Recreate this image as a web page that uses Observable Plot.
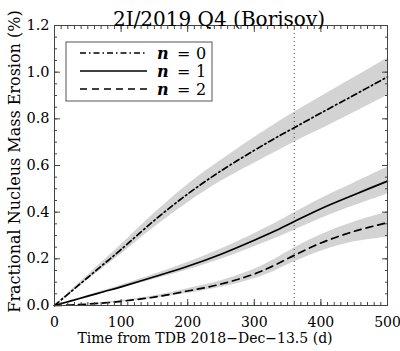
<!DOCTYPE html>
<html>
<head>
<meta charset="utf-8">
<script src="https://cdn.jsdelivr.net/npm/d3@7"></script>
<script src="https://cdn.jsdelivr.net/npm/@observablehq/plot@0.6"></script>
<style>
  html, body { margin: 0; padding: 0; background: #fff; }
  #chart { width: 400px; height: 351px; }
</style>
</head>
<body>
<div id="chart"></div>
<script>
const title = "2I/2019 Q4 (Borisov)";
const xLabel = "Time from TDB 2018\u2212Dec\u221213.5 (d)";
const yLabel = "Fractional Nucleus Mass Erosion (%)";
const perihelion = 360;

const t    = [0, 25, 50, 75, 100, 150, 200, 250, 300, 330, 360, 400, 450, 500];
// n = 0
const n0   = [0, 0.060, 0.120, 0.180, 0.240, 0.365, 0.478, 0.577, 0.665, 0.715, 0.762, 0.825, 0.902, 0.980];
const n0lo = [0, 0.055, 0.110, 0.165, 0.220, 0.335, 0.440, 0.532, 0.610, 0.655, 0.700, 0.755, 0.827, 0.900];
const n0hi = [0, 0.065, 0.130, 0.195, 0.260, 0.395, 0.518, 0.622, 0.720, 0.775, 0.828, 0.895, 0.977, 1.060];
// n = 1
const n1   = [0, 0.020, 0.040, 0.060, 0.080, 0.123, 0.168, 0.220, 0.280, 0.318, 0.360, 0.415, 0.475, 0.533];
const n1lo = [0, 0.019, 0.037, 0.055, 0.073, 0.112, 0.152, 0.198, 0.252, 0.286, 0.323, 0.373, 0.427, 0.478];
const n1hi = [0, 0.021, 0.043, 0.065, 0.087, 0.134, 0.184, 0.242, 0.308, 0.350, 0.397, 0.458, 0.525, 0.592];
// n = 2
const n2   = [0, 0.002, 0.006, 0.011, 0.018, 0.036, 0.062, 0.092, 0.135, 0.172, 0.215, 0.268, 0.318, 0.355];
const n2lo = [0, 0.002, 0.005, 0.009, 0.015, 0.030, 0.052, 0.078, 0.115, 0.147, 0.187, 0.233, 0.273, 0.293];
const n2hi = [0, 0.002, 0.007, 0.013, 0.021, 0.042, 0.072, 0.106, 0.155, 0.197, 0.246, 0.303, 0.358, 0.400];

const seriesNames = ["n = 0", "n = 1", "n = 2"];
const yTicks = [0, 0.2, 0.4, 0.6, 0.8, 1.0, 1.2];
const xTicks = [0, 100, 200, 300, 400, 500];

const dashes = ["6,3,1.5,3", null, "7,5"];

function rows(v, lo, hi) {
  return t.map((d, i) => ({t: d, v: v[i], lo: lo[i], hi: hi[i]}));
}
const S = [rows(n0, n0lo, n0hi), rows(n1, n1lo, n1hi), rows(n2, n2lo, n2hi)];

const font = "'DejaVu Serif', serif";
const curve = "catmull-rom";

const marks = [];
S.forEach(s => marks.push(Plot.areaY(s, {x: "t", y1: "lo", y2: "hi", fill: "#d3d3d3", curve})));
marks.push(Plot.ruleX([perihelion], {stroke: "#555", strokeWidth: 1.1, strokeDasharray: "1,3"}));
S.forEach((s, i) => marks.push(Plot.line(s, {x: "t", y: "v", stroke: "#000", strokeWidth: 1.7, strokeDasharray: dashes[i], curve})));
marks.push(Plot.frame({stroke: "#444", strokeWidth: 1}));

// ticks (inward)
const xMinor = d3.range(0, 501, 10);
const yMinor = d3.range(0, 1.2001, 0.05);
for (const a of ["bottom", "top"]) {
  marks.push(Plot.axisX(xMinor, {anchor: a, tickSize: -3, text: null, label: null, stroke: "#444"}));
  marks.push(Plot.axisX(xTicks, {anchor: a, tickSize: -6, text: null, label: null, stroke: "#444"}));
}
for (const a of ["left", "right"]) {
  marks.push(Plot.axisY(yMinor, {anchor: a, tickSize: -3, text: null, label: null, stroke: "#444"}));
  marks.push(Plot.axisY(yTicks, {anchor: a, tickSize: -6, text: null, label: null, stroke: "#444"}));
}
marks.push(Plot.axisX(xTicks, {anchor: "bottom", tickSize: 0, tickPadding: 12, fontSize: 14, tickFormat: d3.format("d"), label: null}));
marks.push(Plot.axisY(yTicks, {anchor: "left", tickSize: 0, tickPadding: 5, fontSize: 14.5, tickFormat: d3.format(".1f"), label: null}));
marks.push(Plot.text([xLabel], {frameAnchor: "bottom", dy: 37, dx: -16, fontSize: 14}));
marks.push(Plot.text([yLabel], {frameAnchor: "left", textAnchor: "middle", rotate: -90, dx: -40, dy: -4, fontSize: 16}));
marks.push(Plot.text([title], {frameAnchor: "top", dy: -14, dx: -2, fontSize: 20, letterSpacing: "1.5px"}));

const plot = Plot.plot({
  width: 400,
  height: 351,
  marginLeft: 54,
  marginRight: 13,
  marginTop: 25,
  marginBottom: 46,
  style: {fontFamily: font, fontSize: "14px", background: "#fff", color: "#000"},
  x: {domain: [0, 500]},
  y: {domain: [0, 1.2]},
  marks
});

// legend box inside the plot
const svg = d3.select(plot);
const lg = svg.append("g").attr("class", "legend").attr("text-anchor", "start");
lg.append("rect").attr("x", 66).attr("y", 42).attr("width", 146).attr("height", 59)
  .attr("fill", "#fff").attr("stroke", "#555").attr("stroke-width", 1);
seriesNames.forEach((name, i) => {
  const y = 53 + i * 18;
  lg.append("line").attr("x1", 80).attr("x2", 147).attr("y1", y).attr("y2", y)
    .attr("stroke", "#000").attr("stroke-width", 1.7)
    .attr("stroke-dasharray", dashes[i]);
  const parts = name.split(" ");
  const xs = [157, 177, 196];
  parts.forEach((p, j) => {
    lg.append("text").attr("x", xs[j]).attr("y", y).attr("dy", "0.36em")
      .attr("text-anchor", "start")
      .attr("font-size", 16).attr("font-family", font).attr("fill", "#000")
      .attr("font-style", j === 0 ? "italic" : "normal")
      .attr("font-weight", j === 0 ? "bold" : "normal")
      .text(p);
  });
});

document.getElementById("chart").appendChild(plot);
</script>
</body>
</html>
